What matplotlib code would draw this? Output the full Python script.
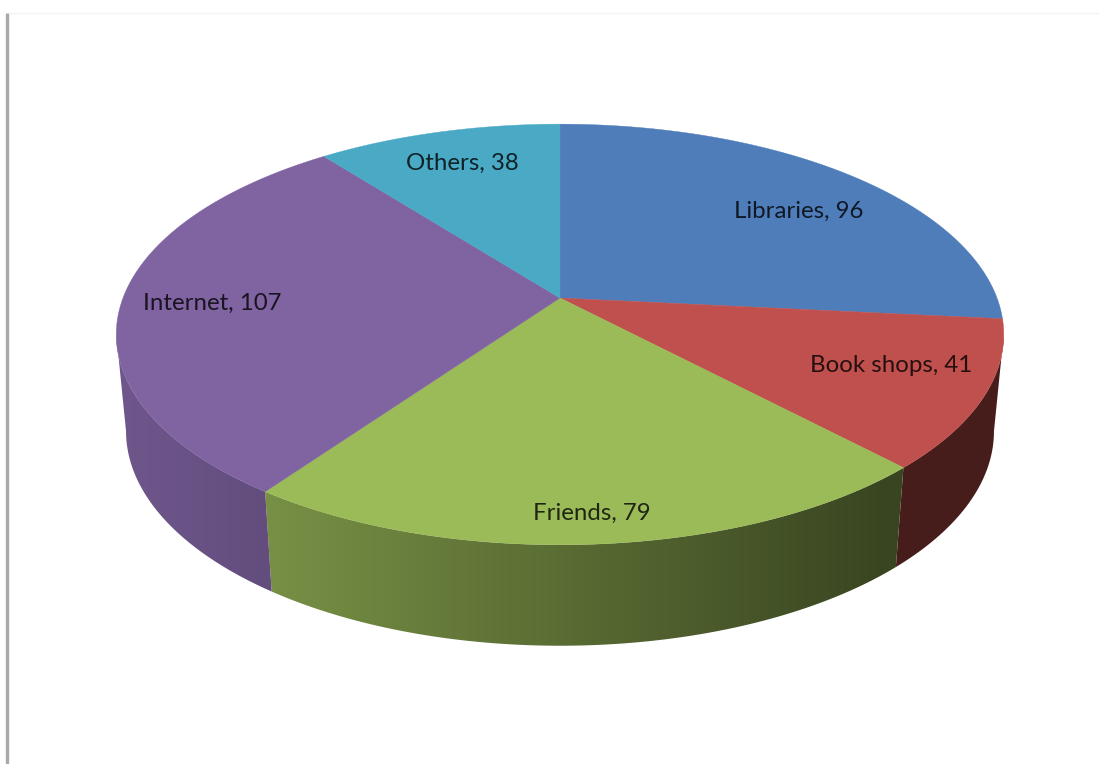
import numpy as np
import matplotlib
matplotlib.use("Agg")
from matplotlib import pyplot as plt
from matplotlib.patches import Polygon

# chart data
labels = ["Libraries", "Book shops", "Friends", "Internet", "Others"]
values = [96, 41, 79, 107, 38]

# styling
colors = ["#4f7dba", "#c0504d", "#9bbb59", "#8064a2", "#4aa9c5"]
label_x = [799, 891, 592, 212, 462]
label_y = [211, 366, 513, 303, 163]

# pie geometry in pixels, tilted circle seen in perspective
cx, cy = 560, 298
sx, sy = 437, 204
k = 0.1734


def top_edge(theta):
    w = 1 + k * np.cos(theta)
    return cx + sx * np.sin(theta) / w, cy - sy * np.cos(theta) / w


def bottom_edge(theta):
    x, y = top_edge(theta)
    return cx + 0.978 * (x - cx), 394 + 1.02 * (y - cy)


def shade(x):
    # side wall gets darker towards the right
    return np.clip(0.87 - 0.51 * (x - 115) / 785, 0.37, 0.87)


fig = plt.figure(figsize=(10.99, 7.64), dpi=100)
ax = fig.add_axes([0, 0, 1, 1])

# frame left over around the chart area
ax.plot([7, 7], [13, 764], color="#a9a9a9", lw=2.4, solid_capstyle="butt")
ax.plot([9, 1099], [13, 13], color="#f2f2f2", lw=1)

edges = np.cumsum([0] + values) / np.sum(values) * 2 * np.pi
grad_x = np.linspace(100, 1020, 460)

# only the front arc of the wall can be seen, between the widest points
front_a = np.arccos(-k)
front_b = 2 * np.pi - front_a

# side wall, horizontal gradient clipped to each slice
for i in range(len(values)):
    a = max(edges[i], front_a)
    b = min(edges[i + 1], front_b)
    if a >= b:
        continue
    th = np.linspace(a, b, 200)
    xt, yt = top_edge(th)
    xb, yb = bottom_edge(th)
    outline = np.c_[np.r_[xt, xb[::-1]], np.r_[yt, yb[::-1]]]
    base = np.array(matplotlib.colors.to_rgb(colors[i]))
    grad = base[None, None, :] * shade(grad_x)[None, :, None]
    patch = Polygon(outline, closed=True, fc="none", ec="none", transform=ax.transData)
    ax.add_patch(patch)
    im = ax.imshow(grad, extent=(100, 1020, 700, 100), aspect="auto", interpolation="bilinear")
    im.set_clip_path(patch)

# top face
for i in range(len(values)):
    th = np.linspace(edges[i], edges[i + 1], 200)
    x, y = top_edge(th)
    ax.fill(np.r_[cx, x], np.r_[cy, y], color=colors[i], lw=0.3)

for i in range(len(values)):
    ax.text(label_x[i], label_y[i], "%s, %d" % (labels[i], values[i]), ha="center", va="center",
            fontsize=17.3, family="Lato", color="black", alpha=0.8)

ax.set_xlim(0, 1099)
ax.set_ylim(764, 0)
ax.axis("off")

fig.savefig("out.png", dpi=100)
